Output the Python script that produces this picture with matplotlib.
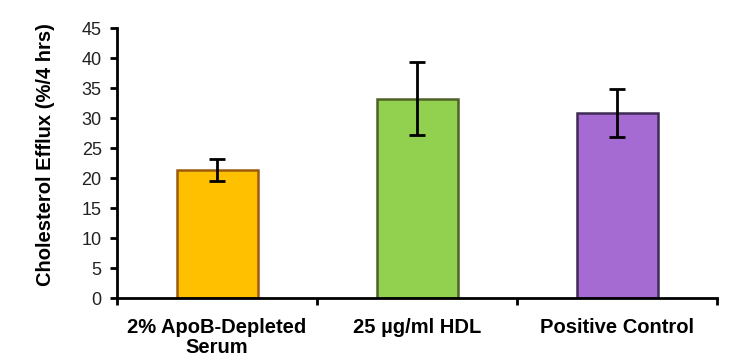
import matplotlib.pyplot as plt
import numpy as np

plt.rcParams['font.family'] = ['Liberation Sans', 'DejaVu Sans']

categories = ['2% ApoB-Depleted\nSerum', '25 µg/ml HDL', 'Positive Control']
efflux = [21.3, 33.2, 30.9]
errors = [1.8, 6.1, 4.0]
face_colors = ['#FFC000', '#92D050', '#A66BD3']
edge_colors = ['#9C5B0F', '#4F6228', '#3F2A55']

fig = plt.figure(figsize=(7.5, 3.64), dpi=100)
ax = fig.add_axes([0.156, 0.181, 0.8, 0.742])

x = np.arange(len(categories))
ax.bar(x, efflux, width=0.405, color=face_colors, edgecolor=edge_colors, linewidth=1.8, zorder=2)
ax.errorbar(x, efflux, yerr=errors, fmt='none', ecolor='black', elinewidth=2,
            capsize=6, capthick=2, zorder=3)

ax.set_xlim(-0.5, len(categories) - 0.5)
ax.set_ylim(0, 45)
ax.set_yticks(np.arange(0, 46, 5))
ax.tick_params(axis='y', labelsize=13, width=2, length=5, pad=6, direction='out', colors='black',
               labelcolor='#222222')

# category labels between ticks
ax.set_xticks(np.arange(-0.5, len(categories), 1))
ax.set_xticklabels([])
ax.tick_params(axis='x', width=2, length=5, direction='out')
ax.set_xticks(x, minor=True)
ax.set_xticklabels(categories, minor=True, fontsize=14.5, fontweight='bold', linespacing=1.1)
ax.tick_params(axis='x', which='minor', length=0, pad=14)

ax.set_ylabel('Cholesterol Efflux (%/4 hrs)', fontsize=14.5, fontweight='bold')
ax.yaxis.set_label_coords(-0.103, 0.53)

for side in ['top', 'right']:
    ax.spines[side].set_visible(False)
for side in ['left', 'bottom']:
    ax.spines[side].set_linewidth(2)

fig.savefig('out.png', dpi=100)
